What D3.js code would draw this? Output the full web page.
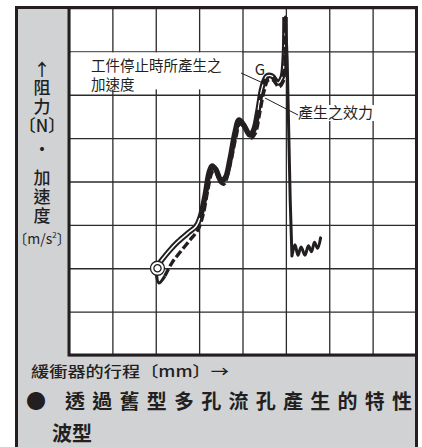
<!DOCTYPE html>
<html>
<head>
	<meta charset="utf-8">
	<title>Buffer stroke waveform</title>
	<script type="text/javascript" src="https://cdn.jsdelivr.net/npm/d3@7"></script>
	<style>
		body {
			margin: 0;
			background: #fff;
		}
		text {
			font-family: "Noto Sans CJK TC", "Noto Sans", sans-serif;
			fill: #231f20;
		}
	</style>
</head>

<body>

	<div id="chart"></div>

	<script>

		// data (grid units: 8 divisions on each axis)

		const accelU = [2.10, 2.33, 2.51, 2.74, 2.93, 3.02, 3.14, 3.23, 3.30, 3.39, 3.50, 3.60, 3.71, 3.83, 3.92, 4.03, 4.17, 4.26, 4.36, 4.45, 4.56, 4.68, 4.82, 4.91, 4.96, 4.98];
		const accelV = [2.14, 2.42, 2.61, 2.81, 2.97, 3.16, 3.69, 4.20, 4.36, 4.27, 4.03, 4.08, 4.50, 5.14, 5.42, 5.30, 5.07, 5.19, 5.65, 6.16, 6.43, 6.43, 6.27, 6.39, 6.80, 7.79];

		const hookU = [2.01, 2.07, 2.21];
		const hookV = [1.91, 1.66, 1.82];

		const forceU = [2.21, 2.37, 2.56, 2.79, 2.97, 3.09, 3.20, 3.30, 3.37, 3.48, 3.57, 3.71, 3.85, 3.94, 4.06, 4.19, 4.29, 4.40, 4.49, 4.59, 4.70, 4.84, 4.93, 4.98, 4.99];
		const forceV = [1.82, 2.12, 2.37, 2.65, 2.88, 3.23, 3.80, 4.22, 4.27, 3.99, 3.94, 4.38, 5.03, 5.33, 5.23, 5.00, 5.10, 5.60, 6.06, 6.34, 6.34, 6.18, 6.29, 6.80, 7.79];

		const reboundU = [4.99, 5.03, 5.10, 5.14, 5.21, 5.28, 5.35, 5.44, 5.52, 5.59, 5.66, 5.73, 5.80];
		const reboundV = [7.79, 6.80, 3.57, 2.28, 2.54, 2.30, 2.49, 2.30, 2.52, 2.38, 2.60, 2.46, 2.70];

		const startPoint = [2.04, 2.0];

		const yLabelForce = "阻力";
		const yLabelUnitN = "〔N〕";
		const yLabelAccel = "加速度";
		const yLabelUnit = "〔m/s";
		const xLabel = "緩衝器的行程〔mm〕→";
		const noteAccel = ["工件停止時所產生之", "加速度"];
		const noteG = "G";
		const noteForce = "產生之效力";
		const titleLine1 = "● 透過舊型多孔流孔產生的特性";
		const titleLine2 = "波型";

		// layout

		const width = 422;
		const height = 447;
		const plot = { left: 69, right: 416, top: 8, bottom: 355 };
		const panelColor = "#d1d2d4";
		const ink = "#231f20";

		const x = d3.scaleLinear().domain([0, 8]).range([plot.left, plot.right]);
		const y = d3.scaleLinear().domain([0, 8]).range([plot.bottom, plot.top]);

		const svg = d3.select("#chart")
			.append("svg")
			.attr("width", width)
			.attr("height", height)
			.attr("viewBox", [0, 0, width, height]);

		// grey panel and white plot area
		svg.append("rect")
			.attr("x", 15).attr("y", 6)
			.attr("width", 403).attr("height", height)
			.attr("fill", panelColor);

		svg.append("rect")
			.attr("x", plot.left).attr("y", plot.top)
			.attr("width", plot.right - plot.left).attr("height", plot.bottom - plot.top)
			.attr("fill", "#fff");

		// grid from the axes
		const gridX = svg.append("g")
			.attr("transform", `translate(0,${plot.bottom})`)
			.call(d3.axisBottom(x).ticks(8).tickSize(-(plot.bottom - plot.top)).tickFormat(""));
		const gridY = svg.append("g")
			.attr("transform", `translate(${plot.left},0)`)
			.call(d3.axisLeft(y).ticks(8).tickSize(-(plot.right - plot.left)).tickFormat(""));
		for (const g of [gridX, gridY]) {
			g.select(".domain").remove();
			g.selectAll("line").attr("stroke", "#2b2b2b").attr("stroke-width", 1.3);
		}

		// frame
		svg.append("path")
			.attr("d", `M16.5,${height}V7.5H416.5V${height}`)
			.attr("fill", "none").attr("stroke", ink).attr("stroke-width", 3);
		svg.append("path")
			.attr("d", `M${plot.left},${plot.top}V${plot.bottom}H${plot.right}`)
			.attr("fill", "none").attr("stroke", ink).attr("stroke-width", 3);

		// note backgrounds and leaders
		svg.append("rect")
			.attr("x", plot.left + 2).attr("y", y(7) + 1)
			.attr("width", 171).attr("height", 37)
			.attr("fill", "#fff");
		svg.append("rect")
			.attr("x", 297).attr("y", 105)
			.attr("width", 83).attr("height", 16)
			.attr("fill", "#fff");

		svg.append("line")
			.attr("x1", 241).attr("y1", 73).attr("x2", 263).attr("y2", 83)
			.attr("stroke", ink).attr("stroke-width", 1);
		svg.append("line")
			.attr("x1", 265).attr("y1", 98).attr("x2", 298).attr("y2", 115)
			.attr("stroke", ink).attr("stroke-width", 1);

		// curves
		const line = d3.line()
			.x(d => x(d[0]))
			.y(d => y(d[1]))
			.curve(d3.curveCatmullRom.alpha(0.5));
		const straight = d3.line()
			.x(d => x(d[0]))
			.y(d => y(d[1]));

		const accel = d3.zip(accelU, accelV);
		const hook = d3.zip(hookU, hookV);
		const force = d3.zip(forceU, forceV);
		const rebound = d3.zip(reboundU, reboundV);

		svg.append("path")
			.attr("d", line(accel))
			.attr("fill", "none").attr("stroke", ink)
			.attr("stroke-width", 5.5).attr("stroke-linejoin", "round");
		svg.append("path")
			.attr("d", line(accel.slice(0, 6)))
			.attr("fill", "none").attr("stroke", "#fff")
			.attr("stroke-width", 1.6).attr("stroke-linejoin", "round");
		svg.append("path")
			.attr("d", line(accel.slice(18)))
			.attr("fill", "none").attr("stroke", "#fff")
			.attr("stroke-width", 1.2).attr("stroke-dasharray", "10,6").attr("stroke-linejoin", "round");

		svg.append("path")
			.attr("d", line(hook))
			.attr("fill", "none").attr("stroke", ink)
			.attr("stroke-width", 3.2).attr("stroke-linejoin", "round");
		svg.append("path")
			.attr("d", line(force))
			.attr("fill", "none").attr("stroke", ink)
			.attr("stroke-width", 3.4).attr("stroke-dasharray", "8,3");

		svg.append("path")
			.attr("d", straight(rebound.slice(0, 4)) + line(rebound.slice(3)).replace(/^M/, "L"))
			.attr("fill", "none").attr("stroke", ink)
			.attr("stroke-width", 3).attr("stroke-linejoin", "round").attr("stroke-linecap", "round");

		// start symbol
		const sym = svg.append("g").attr("transform", `translate(${x(startPoint[0])},${y(startPoint[1])})`);
		sym.append("circle").attr("r", 7).attr("fill", "#fff").attr("stroke", ink).attr("stroke-width", 1.3);
		sym.append("circle").attr("r", 3.6).attr("fill", "none").attr("stroke", ink).attr("stroke-width", 1.3);

		// notes
		svg.append("g")
			.selectAll("text")
			.data(noteAccel)
			.join("text")
			.attr("font-size", 14.5)
			.attr("x", 91)
			.attr("y", (d, i) => 71 + i * 19)
			.text(d => d);
		svg.append("text")
			.attr("x", 260).attr("y", 75)
			.attr("font-size", 15).attr("text-anchor", "middle")
			.text(noteG);
		svg.append("text")
			.attr("x", 298).attr("y", 118)
			.attr("font-size", 15)
			.text(noteForce);

		// y label: ↑ 阻力 〔N〕 ・ 加速度 〔m/s²〕
		const yLab = svg.append("g")
			.attr("font-size", 17)
			.attr("font-weight", 500);
		yLab.append("text")
			.attr("x", 42).attr("y", 76)
			.attr("text-anchor", "middle")
			.text("↑");
		yLab.append("text")
			.attr("x", 42).attr("y", 79)
			.attr("writing-mode", "vertical-rl")
			.attr("letter-spacing", 2)
			.text(yLabelForce);
		yLab.append("text")
			.attr("x", 42).attr("y", 132)
			.attr("text-anchor", "middle")
			.text(yLabelUnitN);
		yLab.append("text")
			.attr("x", 42).attr("y", 156)
			.attr("text-anchor", "middle")
			.text("・");
		yLab.append("text")
			.attr("x", 42).attr("y", 169)
			.attr("writing-mode", "vertical-rl")
			.attr("letter-spacing", 2)
			.text(yLabelAccel);
		const unit = svg.append("text")
			.attr("x", 42).attr("y", 244)
			.attr("text-anchor", "middle")
			.attr("font-size", 14)
			.text(yLabelUnit);
		unit.append("tspan").attr("font-size", 8).attr("dy", -6).text("2");
		unit.append("tspan").attr("dy", 6).text("〕");

		// x label
		svg.append("text")
			.attr("x", 31).attr("y", 377)
			.attr("font-size", 15)
			.attr("font-weight", 500)
			.attr("textLength", 198).attr("lengthAdjust", "spacingAndGlyphs")
			.text(xLabel);

		// title
		svg.append("text")
			.attr("x", 26).attr("y", 409)
			.attr("font-size", 20).attr("font-weight", 700)
			.attr("textLength", 386).attr("lengthAdjust", "spacing")
			.text(titleLine1);
		svg.append("text")
			.attr("x", 52).attr("y", 441)
			.attr("font-size", 20).attr("font-weight", 700)
			.text(titleLine2);

	</script>

</body>

</html>
